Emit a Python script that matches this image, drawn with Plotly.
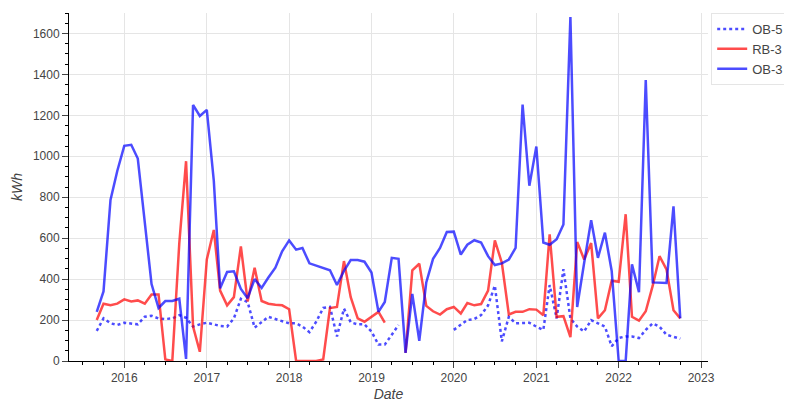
import pandas as pd
import plotly.graph_objects as go

dates = pd.date_range("2015-09-01", periods=86, freq="MS")

N = None
ob3 = [240, 340, 787, 928, 1051, 1056, 989, 688, 376, 259, 293, 293, 304, 10, 1251, 1197, 1227, 880,
       355, 435, 438, 352, 307, 400, 357, 408, 456, 536, 589, 544, 552, 477, 467, 453, 443, 371,
       440, 493, 493, 485, 432, 240, 288, 504, 499, 40, 328, 99, 384, 499, 552, 630, 632, 520,
       568, 590, 579, 512, 469, 477, 496, 552, 1253, 856, 1048, 579, 568, 595, 667, 1680, 264,
       480, 688, 504, 627, 440, 0, 0, 472, 336, 1373, 384, 384, 381, 755, 208]
rb3 = [200, 280, 272, 280, 301, 291, 296, 280, 325, 325, 8, 0, 576, 976, 168, 45, 496, 640,
       344, 272, 312, 560, 291, 456, 293, 280, 275, 272, 253, 0, 0, 0, 0, 8, 259, 264,
       488, 312, 208, 192, 216, 240, 187, N, N, 40, 443, 475, 269, 243, 227, 253, 264, 232,
       283, 272, 278, 344, 589, 480, 227, 240, 240, 253, 251, 224, 619, 216, 219, 117, 581,
       496, 576, 208, 248, 392, 387, 717, 216, 197, 243, 368, 512, 448, 248, 208]
ob5 = [147, 208, 184, 176, 187, 184, 179, 216, 221, 208, 205, 208, 224, 211, 168, 179, 187, 179,
       171, 168, 208, 304, 288, 163, 192, 216, 205, 195, 184, 184, 168, 141, 192, 259, 264, 120,
       256, 189, 179, 179, 144, 80, 80, 128, 176, N, N, N, N, N, N, N, 152, 176,
       200, 205, 224, 272, 368, 96, 216, 184, 184, 187, 168, 152, 371, 208, 448, 208, 168,
       144, 200, 184, 168, 72, 112, 120, 120, 112, 152, 184, 168, 128, 120, 109]

fig = go.Figure()
fig.add_trace(go.Scatter(x=dates, y=ob5, name="OB-5", mode="lines",
                         line=dict(color="rgba(0,0,255,0.7)", width=2.5, dash="dot")))
fig.add_trace(go.Scatter(x=dates, y=rb3, name="RB-3", mode="lines",
                         line=dict(color="rgba(255,0,0,0.7)", width=2.5)))
fig.add_trace(go.Scatter(x=dates, y=ob3, name="OB-3", mode="lines",
                         line=dict(color="rgba(0,0,255,0.7)", width=2.5)))

axis = dict(showline=True, linecolor="black", linewidth=1, ticks="outside", ticklen=6,
            gridcolor="#e5e5e5", zeroline=False, tickfont=dict(size=12, color="#444"),
            minor=dict(ticks="outside", ticklen=3, tickcolor="black", showgrid=False))
fig.update_layout(
    width=792, height=404, margin=dict(l=61, r=92, t=5, b=51),
    plot_bgcolor="white", paper_bgcolor="white",
    font=dict(family="Helvetica, Arial, sans-serif", color="#444"),
    legend=dict(x=1.005, y=1, xanchor="left", yanchor="top", bordercolor="#e5e5e5",
                borderwidth=1, font=dict(size=13), itemwidth=30),
)
fig.update_xaxes(axis, range=["2015-05-01", "2023-02-01"], dtick="M12", tickformat="%Y",
                 title=dict(text="<i>Date</i>", standoff=4), minor_dtick="M3")
fig.update_yaxes(axis, range=[0, 1700], dtick=200, minor_dtick=50,
                 title=dict(text="<i>kWh</i>", standoff=6))
fig.write_html("out.html")
